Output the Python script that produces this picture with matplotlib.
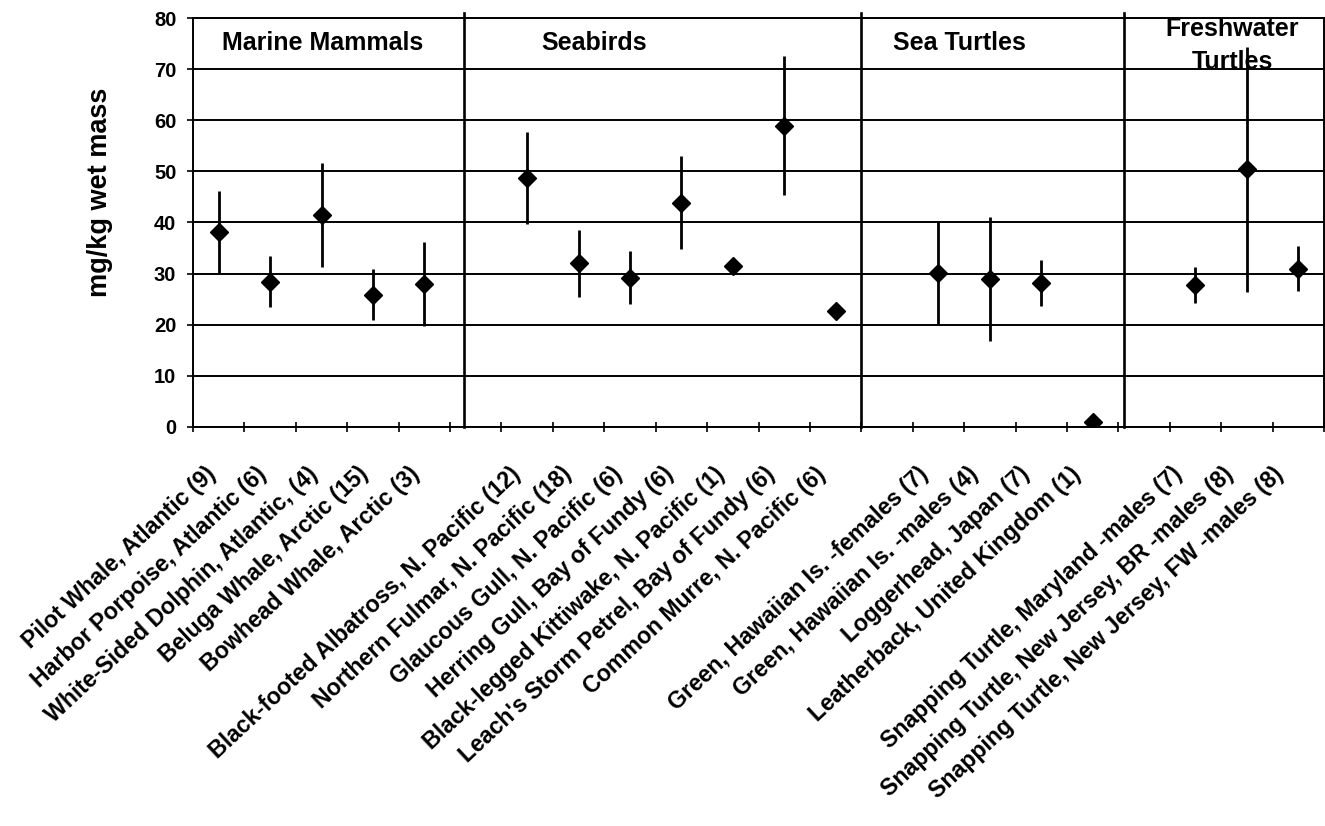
import numpy as np
import matplotlib
matplotlib.use("Agg")
import matplotlib.pyplot as plt
from matplotlib.transforms import ScaledTranslation

plt.rcParams['font.family'] = ['Liberation Sans', 'DejaVu Sans']
plt.rcParams['font.weight'] = 'bold'

labels = [
    "Pilot Whale, Atlantic (9)",
    "Harbor Porpoise, Atlantic (6)",
    "White-Sided Dolphin, Atlantic, (4)",
    "Beluga Whale, Arctic (15)",
    "Bowhead Whale, Arctic (3)",
    "",
    "Black-footed Albatross, N. Pacific (12)",
    "Northern Fulmar, N. Pacific (18)",
    "Glaucous Gull, N. Pacific (6)",
    "Herring Gull, Bay of Fundy (6)",
    "Black-legged Kittiwake, N. Pacific (1)",
    "Leach's Storm Petrel, Bay of Fundy (6)",
    "Common Murre, N. Pacific (6)",
    "",
    "Green, Hawaiian Is. -females (7)",
    "Green, Hawaiian Is. -males (4)",
    "Loggerhead, Japan (7)",
    "Leatherback, United Kingdom (1)",
    "",
    "Snapping Turtle, Maryland -males (7)",
    "Snapping Turtle, New Jersey, BR -males (8)",
    "Snapping Turtle, New Jersey, FW -males (8)",
]
means = [38.2, 28.4, 41.5, 25.9, 28.0, np.nan,
         48.7, 32.0, 29.2, 43.9, 31.4, 58.9, 22.7, np.nan,
         30.1, 28.9, 28.1, 1.0, np.nan,
         27.7, 50.4, 31.0]
errs = [8.0, 5.0, 10.2, 5.0, 8.2, np.nan,
        9.0, 6.5, 5.2, 9.1, 0.0, 13.6, 0.0, np.nan,
        10.0, 12.1, 4.5, 0.0, np.nan,
        3.5, 23.9, 4.4]
groups = ["Marine Mammals", "Seabirds", "Sea Turtles", "Freshwater\nTurtles"]

W, H = 1325, 826
fig = plt.figure(figsize=(W / 100, H / 100), dpi=100)
ax = fig.add_axes([193 / W, 1 - 427 / H, (1324 - 193) / W, (427 - 18) / H])

x = np.arange(len(labels))
m = np.array(means)
e = np.array(errs)
ok = ~np.isnan(m)

ax.set_xlim(-0.5, len(labels) - 0.5)
ax.set_ylim(0, 80)
ax.set_yticks(np.arange(0, 81, 10))
ax.grid(axis='y', color='black', lw=1.4)
ax.set_axisbelow(True)

ax.errorbar(x[ok], m[ok], yerr=e[ok], fmt='none', ecolor='black',
            elinewidth=2.0, capsize=0, zorder=3)
ax.plot(x[ok], m[ok], ls='none', marker='D', ms=9.5, color='black', zorder=4)

# group separators
for sx in [4.77, 12.5, 17.6]:
    ax.axvline(sx, ymin=0, ymax=1.013, color='black', lw=1.9, clip_on=False, zorder=2)

# group titles (baseline positions)
title_x = [2.03, 7.31, 14.4, 19.71]
title_y = [73.7, 73.7, 73.7, 76.5]
line_step = 6.5
for tx, ty, g in zip(title_x, title_y, groups):
    for k, line in enumerate(g.split("\n")):
        ax.text(tx, ty - k * line_step, line, ha='center', va='baseline',
                fontsize=18, fontweight='bold')

for sp in ax.spines.values():
    sp.set_linewidth(1.4)

ax.set_xticks(x)
ax.set_xticklabels(labels, rotation=43, ha='right', va='top',
                   rotation_mode='anchor', fontsize=16.7, fontweight='bold')
ax.tick_params(axis='x', which='major', length=0, pad=25.5)
ax.set_xticks(np.arange(-0.5, len(labels), 1.0), minor=True)
ax.tick_params(axis='x', which='minor', length=7, width=1.2, direction='inout')
for i, lab in enumerate(ax.get_xticklabels()):
    off = ScaledTranslation((-14 - 0.55 * i) / 100, 0, fig.dpi_scale_trans)
    lab.set_transform(lab.get_transform() + off)

ax.tick_params(axis='y', length=4, width=1.2, direction='out', pad=8, labelsize=14.5)
for lab in ax.get_yticklabels():
    lab.set_fontweight('bold')

fig.text(100 / W, 1 - 192 / H, "mg/kg wet mass", rotation=90, ha='center',
         va='center', fontsize=19.5, fontweight='bold')

fig.savefig("out.png", dpi=100)
